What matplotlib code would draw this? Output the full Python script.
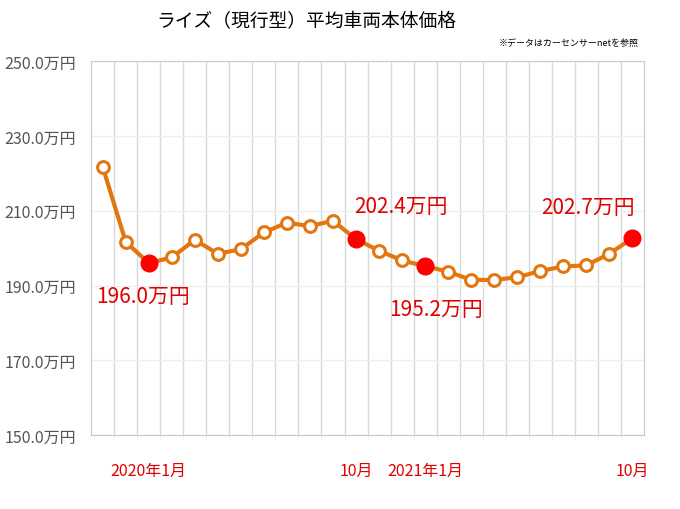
import matplotlib
matplotlib.use('Agg')
import matplotlib.pyplot as plt
import numpy as np

plt.rcParams['font.family'] = ['Noto Sans CJK JP', 'DejaVu Sans']

# monthly average price (万円), 2019/11 .. 2021/10
prices = [221.8, 201.7, 196.0, 197.5, 202.2, 198.5, 199.7, 204.2, 206.8, 205.9,
          207.3, 202.4, 199.3, 196.7, 195.2, 193.7, 191.5, 191.5, 192.2, 193.9,
          195.1, 195.4, 198.5, 202.7]
hi_idx = [2, 11, 14, 23]                      # highlighted months
hi_text = ['196.0万円', '202.4万円', '195.2万円', '202.7万円']
hi_off = [(-4, -24), (32, 24), (8, -31), (-32, 22)]   # label offsets (pt)
month_idx = [2, 11, 14, 23]
month_lbl = ['2020年1月', '10月', '2021年1月', '10月']
yticks = [150, 170, 190, 210, 230, 250]

fig = plt.figure(figsize=(6.8, 5.1), dpi=100)
ax = fig.add_axes([0.134, 0.145, 0.813, 0.733])

x = np.arange(len(prices))
orange = '#E3760F'
ax.plot(x, prices, color=orange, lw=3, marker='o', ms=8.5,
        mfc='white', mec=orange, mew=2.2, zorder=3)
ax.plot(x[hi_idx], np.array(prices)[hi_idx], 'o', color='#FF0000', ms=12, zorder=4)

for i, t, off in zip(hi_idx, hi_text, hi_off):
    ax.annotate(t, (i, prices[i]), xytext=off, textcoords='offset points',
                ha='center', va='center', color='#E00000', fontsize=15)

ax.set_xlim(-0.5, len(prices) - 0.5)
ax.set_ylim(150, 250)
ax.set_yticks(yticks)
ax.set_yticklabels(['%.1f万円' % v for v in yticks], color='#555555', fontsize=11.5)
ax.tick_params(axis='y', length=0, pad=11)

ax.set_xticks(month_idx)
ax.set_xticklabels(month_lbl, color='#E00000', fontsize=11.5)
ax.set_xticks(np.arange(0.5, len(prices) - 0.5, 1), minor=True)
ax.tick_params(axis='x', which='major', length=0, pad=19)
ax.tick_params(axis='x', which='minor', length=3, color='#eeeeee')

ax.grid(axis='y', color='#eeeeee', lw=1)
ax.grid(axis='x', which='minor', color='#d9d9d9', lw=1)
ax.set_axisbelow(True)
for s in ax.spines.values():
    s.set_color('#c8c8c8')

fig.text(0.45, 0.957, 'ライズ（現行型）平均車両本体価格', ha='center', va='center', fontsize=13.5)
fig.text(0.94, 0.913, '※データはカーセンサーnetを参照', ha='right', va='center', fontsize=6.5)

fig.savefig('out.png', dpi=100)
